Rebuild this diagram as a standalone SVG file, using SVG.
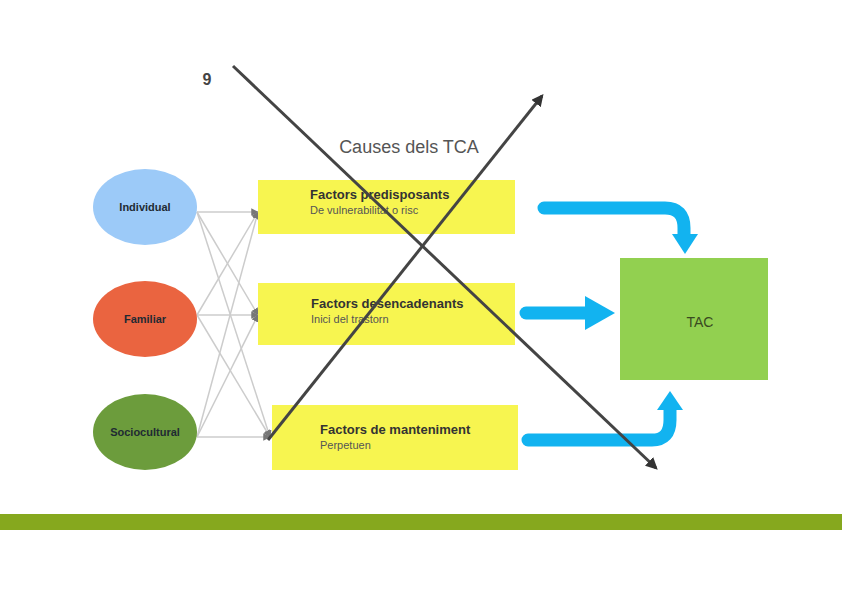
<svg xmlns="http://www.w3.org/2000/svg" width="842" height="595" viewBox="0 0 842 595">
<style>
.lbl{font-family:"Liberation Sans",Arial,sans-serif;font-weight:bold;font-size:11px;fill:#1f2a33}
.t1{font-family:"Liberation Sans",Arial,sans-serif;font-weight:bold;font-size:13px;fill:#333}
.t2{font-family:"Liberation Sans",Arial,sans-serif;font-size:11px;fill:#555}
.box{fill:#f7f550}
.thin{stroke:#cccccc;stroke-width:1.5;fill:none;marker-end:url(#sa)}
.blue{stroke:#12b3f0;stroke-width:13;fill:none;stroke-linecap:round}
.diag{stroke:#444;stroke-width:3;fill:none}
</style>
<defs>
<marker id="sa" viewBox="0 0 10 10" refX="9" refY="5" markerWidth="5" markerHeight="5" orient="auto"><path d="M0,0L10,5L0,10z" fill="#777"/></marker>
<marker id="da" viewBox="0 0 10 10" refX="8" refY="5" markerWidth="4" markerHeight="4" orient="auto"><path d="M0,0L10,5L0,10z" fill="#333"/></marker>
</defs>
<rect x="0" y="0" width="842" height="595" fill="#fff"/>
<rect x="0" y="514" width="842" height="16" fill="#86a81e"/>
<g id="connectors">
<path class="thin" d="M197,212 L258,212"/>
<path class="thin" d="M197,212 L258,315"/>
<path class="thin" d="M197,212 L270,437"/>
<path class="thin" d="M197,315 L258,212"/>
<path class="thin" d="M197,315 L258,315"/>
<path class="thin" d="M197,315 L270,437"/>
<path class="thin" d="M197,437 L258,212"/>
<path class="thin" d="M197,437 L258,315"/>
<path class="thin" d="M197,437 L270,437"/>
<path class="blue" d="M544,208 L665,208 Q684,208 684,228 L684,236"/>
<path d="M672,234 L698,234 L685,254 Z" fill="#12b3f0"/>
<path class="blue" d="M526,313 L590,313"/>
<path d="M585,296 L615,313 L585,330 Z" fill="#12b3f0"/>
<path class="blue" d="M528,440 L652,440 Q670,440 670,420 L670,408"/>
<path d="M657,410 L683,410 L670,391 Z" fill="#12b3f0"/>
</g>
<g id="individual"><ellipse cx="145" cy="207" rx="52" ry="38" fill="#9ccaf8"/><text class="lbl" x="145" y="211" text-anchor="middle">Individual</text></g>
<g id="familiar"><ellipse cx="145" cy="319" rx="52" ry="38" fill="#ea6440"/><text class="lbl" x="145" y="323" text-anchor="middle">Familiar</text></g>
<g id="sociocultural"><ellipse cx="145" cy="432" rx="52" ry="38" fill="#6c9c3c"/><text class="lbl" x="145" y="436" text-anchor="middle">Sociocultural</text></g>
<g id="predisposants"><rect class="box" x="258" y="180" width="257" height="54"/><text class="t1" x="310" y="199">Factors predisposants</text><text class="t2" x="310" y="214">De vulnerabilitat o risc</text></g>
<g id="desencadenants"><rect class="box" x="258" y="283" width="257" height="62"/><text class="t1" x="311" y="308">Factors desencadenants</text><text class="t2" x="311" y="323">Inici del trastorn</text></g>
<g id="manteniment"><rect class="box" x="272" y="405" width="246" height="65"/><text class="t1" x="320" y="434">Factors de manteniment</text><text class="t2" x="320" y="449">Perpetuen</text></g>
<g id="tac"><rect x="620" y="258" width="148" height="122" fill="#92d050"/><text x="700" y="327" text-anchor="middle" font-family="Liberation Sans, Arial, sans-serif" font-size="14" fill="#3a4a20">TAC</text></g>
<g id="title"><text x="409" y="153" text-anchor="middle" font-family="Liberation Sans, Arial, sans-serif" font-size="18" fill="#555">Causes dels TCA</text></g>
<g id="cross">
<text x="207" y="85" text-anchor="middle" font-family="Liberation Sans, Arial, sans-serif" font-weight="bold" font-size="16" fill="#444">9</text>
<path class="diag" d="M233,66 L656,468" marker-end="url(#da)"/>
<path class="diag" d="M268,440 L542,96" marker-end="url(#da)"/>
</g>
</svg>
